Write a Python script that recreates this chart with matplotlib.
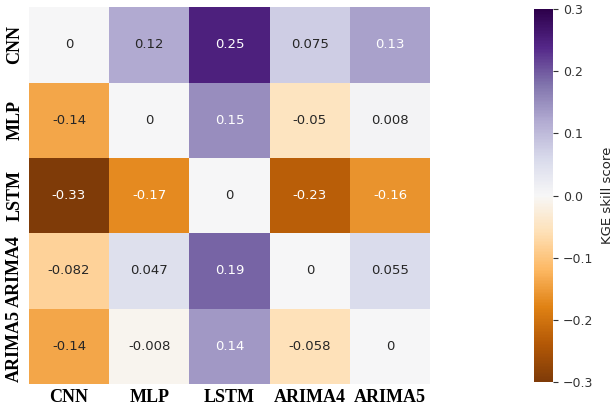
import numpy as np
import pandas as pd
import matplotlib
matplotlib.use("Agg")
import matplotlib.pyplot as plt
import seaborn as sns

# KGE skill score of row model relative to column model
models = ["CNN", "MLP", "LSTM", "ARIMA4", "ARIMA5"]
cnn_row = [0, 0.12, 0.25, 0.075, 0.13]
mlp_row = [-0.14, 0, 0.15, -0.05, 0.008]
lstm_row = [-0.33, -0.17, 0, -0.23, -0.16]
arima4_row = [-0.082, 0.047, 0.19, 0, 0.055]
arima5_row = [-0.14, -0.008, 0.14, -0.058, 0]

scores = pd.DataFrame([cnn_row, mlp_row, lstm_row, arima4_row, arima5_row],
                      index=models, columns=models)

fig = plt.figure(figsize=(6.13, 4.07), dpi=100)
ax = fig.add_axes([0.047, 0.057, 0.655, 0.925])
cax = fig.add_axes([0.871, 0.062, 0.031, 0.915])

sns.heatmap(scores, ax=ax, cbar_ax=cax, cmap="PuOr", vmin=-0.3, vmax=0.3,
            annot=True, annot_kws={"fontsize": 9.5})

for lbl in ax.get_xticklabels():
    lbl.set_fontfamily("Liberation Serif")
    lbl.set_fontweight("bold")
    lbl.set_fontsize(13)
    lbl.set_rotation(0)
for lbl in ax.get_yticklabels():
    lbl.set_fontfamily("Liberation Serif")
    lbl.set_fontweight("bold")
    lbl.set_fontsize(13)
    lbl.set_rotation(90)
    lbl.set_va("center")
ax.tick_params(length=0, pad=4)

cax.tick_params(labelsize=9, colors="#333333")
cax.set_yticks([-0.3, -0.2, -0.1, 0.0, 0.1, 0.2, 0.3])
cax.set_ylabel("KGE skill score", fontsize=9.5, color="#222222", labelpad=6)
for s in cax.spines.values():
    s.set_visible(False)

fig.savefig("out.png", dpi=100)
